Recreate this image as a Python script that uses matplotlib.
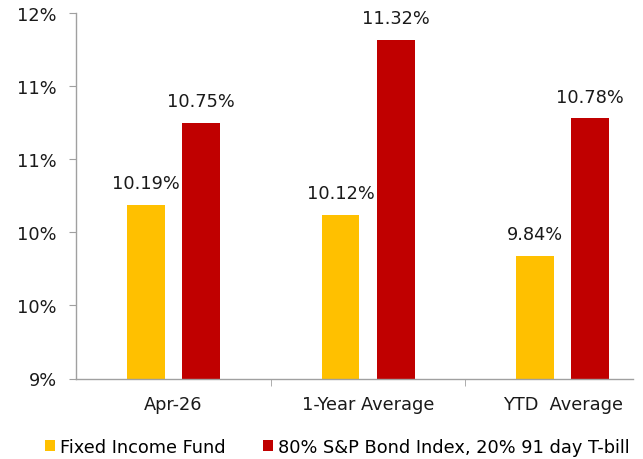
import numpy as np
import matplotlib
matplotlib.use('Agg')
import matplotlib.pyplot as plt
from matplotlib.patches import Patch
from matplotlib.ticker import FuncFormatter, MultipleLocator


categories = ['Apr-26', '1-Year Average', 'YTD  Average']
series_names = ['Fixed Income Fund', '80% S&P Bond Index, 20% 91 day T-bill']
fund_values = [10.19, 10.12, 9.84]
index_values = [10.75, 11.32, 10.78]
colors = ['#FFC000', '#C00000']

plt.rcParams['font.family'] = ['DejaVu Sans']
fs = 12.8

fig = plt.figure(figsize=(6.43, 4.60), dpi=100)
ax = fig.add_axes([0.1186, 0.175, 0.866, 0.794])

x = np.arange(len(categories))
width = 0.194
offset = 0.142
for vals, off, col in [(fund_values, -offset, colors[0]), (index_values, offset, colors[1])]:
    bars = ax.bar(x + off, vals, width=width, color=col, bottom=0)
    for b, v in zip(bars, vals):
        ax.annotate('%.2f%%' % v, (b.get_x() + b.get_width() / 2, v),
                    xytext=(0, 9), textcoords='offset points',
                    ha='center', va='bottom', fontsize=fs, color='#1a1a1a')

ax.set_ylim(9, 11.5)
ax.set_xlim(-0.5, -0.5 + 556.75 / 194.5)
ax.yaxis.set_major_locator(MultipleLocator(0.5))
# excel style rounding, 9.5 -> 10%
ax.yaxis.set_major_formatter(FuncFormatter(lambda v, p: '%d%%' % int(np.floor(v + 0.5))))

ax.set_xticks(x)
ax.set_xticklabels(categories)
ax.set_xticks([0.5, 1.5], minor=True)
ax.tick_params(axis='x', which='major', length=0, pad=12, labelsize=fs, colors='#1a1a1a')
ax.tick_params(axis='x', which='minor', length=5, color='#A0A0A0', direction='out')
ax.tick_params(axis='y', length=5, color='#A0A0A0', pad=9, labelsize=fs, labelcolor='#1a1a1a')

for s in ['top', 'right']:
    ax.spines[s].set_visible(False)
for s in ['left', 'bottom']:
    ax.spines[s].set_color('#A0A0A0')
    ax.spines[s].set_linewidth(1)

handles = [Patch(facecolor=c, edgecolor='none') for c in colors]
fig.legend(handles, series_names, loc='center', bbox_to_anchor=(0.524, 0.027),
           ncol=2, frameon=False, handlelength=0.6, handleheight=0.6,
           handletextpad=0.25, columnspacing=2.1, fontsize=fs, borderpad=0)

fig.savefig('out.png', dpi=100)
